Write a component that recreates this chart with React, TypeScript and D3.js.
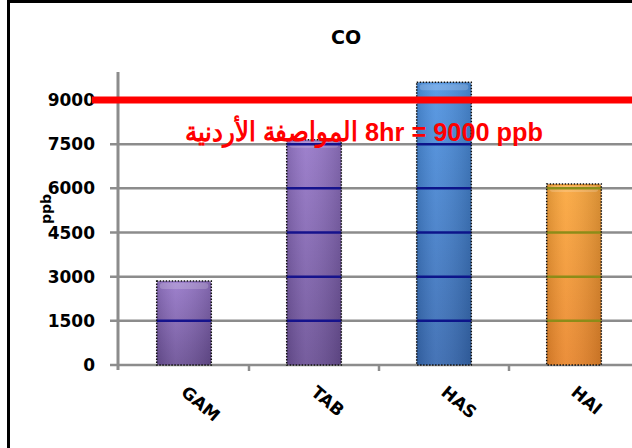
import React from "react";
import * as d3 from "d3";

const categories = ["GAM", "TAB", "HAS", "HAI"];
const values = [2850, 7650, 9600, 6150];
const yTicks = [0, 1500, 3000, 4500, 6000, 7500, 9000];
const standardValue = 9000;
const title = "CO";
const unitLabel = "ppb";
const standardArabic = "المواصفة الأردنية";
const standardLatin = "8hr = 9000 ppb";

const barTop = ["#9677c9", "#9677c9", "#4e93e2", "#fba73c"];
const barBottom = ["#6a4f95", "#6a4f95", "#3668b0", "#e9852a"];
const gridInBar = ["#15128c", "#15128c", "#0c148a", "#8c8c18"];

const W = 632;
const H = 448;

export default function App() {
  const x = d3.scaleBand<string>().domain(categories).range([119, 639]).paddingInner(0.58).paddingOuter(0.29);
  const y = d3.scaleLinear().domain([0, 9000]).range([365, 100]);
  const axisX = 118;
  const axisTop = 72;
  const step = x.step();
  const start = x.range()[0];
  const font = "'DejaVu Sans', Verdana, sans-serif";

  return (
    <svg width={W} height={H} style={{ position: "absolute", left: 0, top: 0, background: "#fff" }}>
      <defs>
        {categories.map((c, i) => (
          <linearGradient key={c} id={`g${i}`} x1="0" y1="0" x2="0" y2="1">
            <stop offset="0" stopColor={barTop[i]} />
            <stop offset="1" stopColor={barBottom[i]} />
          </linearGradient>
        ))}
        {categories.map((c, i) => (
          <linearGradient key={c} id={`h${i}`} x1="0" y1="0" x2="1" y2="0">
            <stop offset="0" stopColor="#000" stopOpacity={0.12} />
            <stop offset="0.35" stopColor="#fff" stopOpacity={0.08} />
            <stop offset="1" stopColor="#000" stopOpacity={0.15} />
          </linearGradient>
        ))}
      </defs>
      <rect x={0} y={0} width={W} height={H} fill="#fff" />
      {/* frame */}
      <line x1={8.5} y1={0} x2={8.5} y2={H} stroke="#000" strokeWidth={3} />
      <line x1={7} y1={1.5} x2={W} y2={1.5} stroke="#000" strokeWidth={3} />

      <text x={346} y={44} textAnchor="middle" fontFamily={font} fontWeight="bold" fontSize={19} fill="#000">
        {title}
      </text>

      {/* gridlines */}
      {yTicks.map((t) => (
        <line key={t} x1={110} x2={W} y1={y(t)} y2={y(t)} stroke="#8c8c8c" strokeWidth={2.5} />
      ))}
      {/* y axis */}
      <line x1={axisX} x2={axisX} y1={axisTop} y2={y(0) + 5} stroke="#8c8c8c" strokeWidth={3} />
      {/* x ticks */}
      {categories.map((c, i) => (
        <line key={c} x1={start + step * (i + 1)} x2={start + step * (i + 1)} y1={y(0)} y2={y(0) + 6} stroke="#8c8c8c" strokeWidth={2.5} />
      ))}

      {/* bars */}
      {categories.map((c, i) => {
        const bx = x(c)!;
        const bw = x.bandwidth();
        const by = y(values[i]);
        const bh = y(0) - by;
        return (
          <g key={c}>
            <rect x={bx} y={by} width={bw} height={bh} rx={3} fill={`url(#g${i})`} />
            <rect x={bx} y={by} width={bw} height={bh} rx={3} fill={`url(#h${i})`} />
            <rect x={bx + 3} y={by + 2} width={bw - 6} height={6} rx={3} fill="#fff" opacity={0.18} />
            {yTicks
              .filter((t) => t > 0 && t < values[i])
              .map((t) => (
                <line key={t} x1={bx} x2={bx + bw} y1={y(t)} y2={y(t)} stroke={gridInBar[i]} strokeWidth={2.5} />
              ))}
            <rect x={bx} y={by} width={bw} height={bh} fill="none" stroke="#111" strokeWidth={1.5} strokeDasharray="1.5,1.5" />
          </g>
        );
      })}

      {/* y tick labels */}
      {yTicks.map((t) => (
        <text key={t} x={95} y={y(t) + 6} textAnchor="end" fontFamily={font} fontWeight="bold" fontSize={17} fill="#000">
          {t}
        </text>
      ))}

      {/* unit label */}
      <text x={0} y={0} transform={`translate(51 209) rotate(-90)`} textAnchor="middle" fontFamily={font} fontWeight="bold" fontSize={14} fill="#000">
        {unitLabel}
      </text>

      {/* x labels */}
      {categories.map((c) => {
        const cx = x(c)! + x.bandwidth() / 2 - 4;
        const cy = 394;
        return (
          <text key={c} x={cx} y={cy} transform={`rotate(40 ${cx} ${cy})`} fontFamily={font} fontWeight="bold" fontSize={17} fill="#000">
            {c}
          </text>
        );
      })}

      {/* standard line */}
      <line x1={92} x2={W} y1={y(standardValue)} y2={y(standardValue)} stroke="#ff0000" strokeWidth={7} />
      <text x={185} y={141} textLength={173} lengthAdjust="spacingAndGlyphs" fontFamily="'Liberation Sans Narrow', 'Liberation Sans', Arial, sans-serif" fontWeight="bold" fontSize={27} fill="#ff0000">
        {standardArabic}
      </text>
      <text x={365} y={141} textLength={178} lengthAdjust="spacingAndGlyphs" fontFamily="'Liberation Sans Narrow', 'Liberation Sans', Arial, sans-serif" fontWeight="bold" fontSize={26} fill="#ff0000">
        {standardLatin}
      </text>
    </svg>
  );
}
